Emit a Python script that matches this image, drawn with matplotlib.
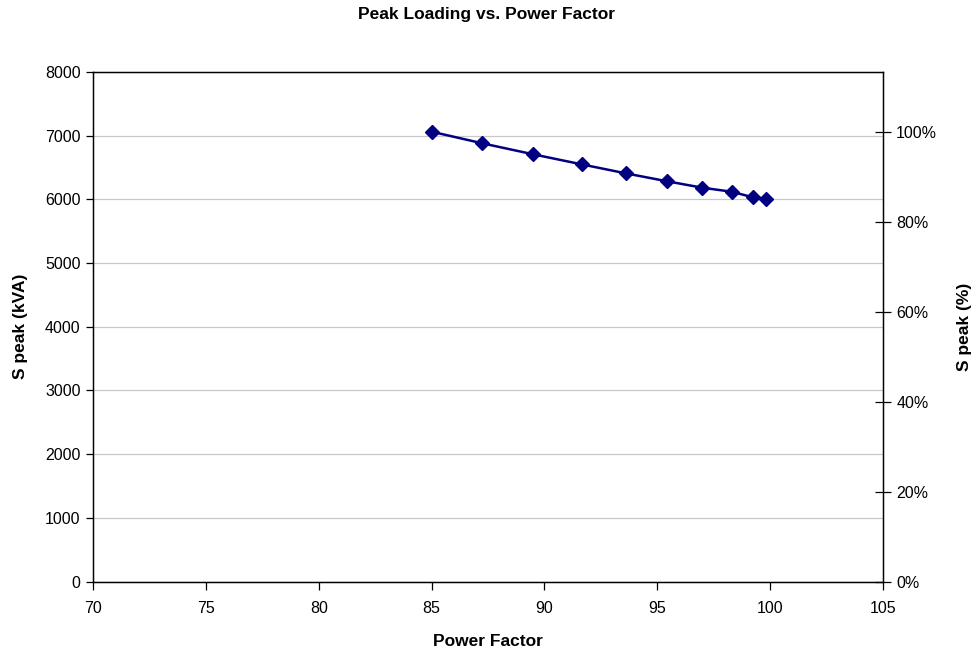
import matplotlib
matplotlib.use("Agg")
import matplotlib.pyplot as plt
from matplotlib.ticker import PercentFormatter

plt.rcParams['font.family'] = ['Liberation Sans', 'DejaVu Sans']
plt.rcParams['font.size'] = 11.5

# data
power_factor = [85.0, 87.25, 89.5, 91.65, 93.6, 95.45, 97.0, 98.3, 99.25, 99.8]
s_peak_kva = [7063, 6880, 6708, 6550, 6409, 6283, 6183, 6120, 6031, 6000]

fig = plt.figure(figsize=(9.72, 6.48), dpi=100)
ax = fig.add_axes([93/972, 1-581.5/648, (883-93)/972, (581.5-72)/648])

ax.plot(power_factor, s_peak_kva, color='#000080', lw=1.8, marker='D', ms=7,
        markerfacecolor='#000080', markeredgecolor='#000080', zorder=3)

ax.set_xlim(70, 105)
ax.set_ylim(0, 8000)
ax.set_xticks(range(70, 106, 5))
ax.set_yticks(range(0, 8001, 1000))
ax.grid(axis='y', color='#c8c8c8', lw=0.9)
ax.set_axisbelow(True)
ax.tick_params(direction='out', length=5, width=0.9, pad=4)
ax.tick_params(axis='x', length=6, pad=8)
for s in ax.spines.values():
    s.set_linewidth(1.0)

ax.set_xlabel('Power Factor', fontweight='bold', fontsize=12.5, labelpad=13)
ax.set_ylabel('S peak (kVA)', fontweight='bold', fontsize=12.5, labelpad=12)

# right axis as % of the peak at lowest power factor
ax2 = ax.twinx()
ax2.set_ylim(0, 8000 / s_peak_kva[0])
ax2.set_yticks([0, 0.2, 0.4, 0.6, 0.8, 1.0])
ax2.yaxis.set_major_formatter(PercentFormatter(1.0, decimals=0))
ax2.tick_params(direction='inout', length=11, width=0.9, pad=4)
ax2.set_ylabel('S peak (%)', fontweight='bold', fontsize=12.5, labelpad=14)

fig.suptitle('Peak Loading vs. Power Factor', fontweight='bold', fontsize=12.5,
             y=1-15/648, va='center')

fig.savefig('out.png', dpi=100)
